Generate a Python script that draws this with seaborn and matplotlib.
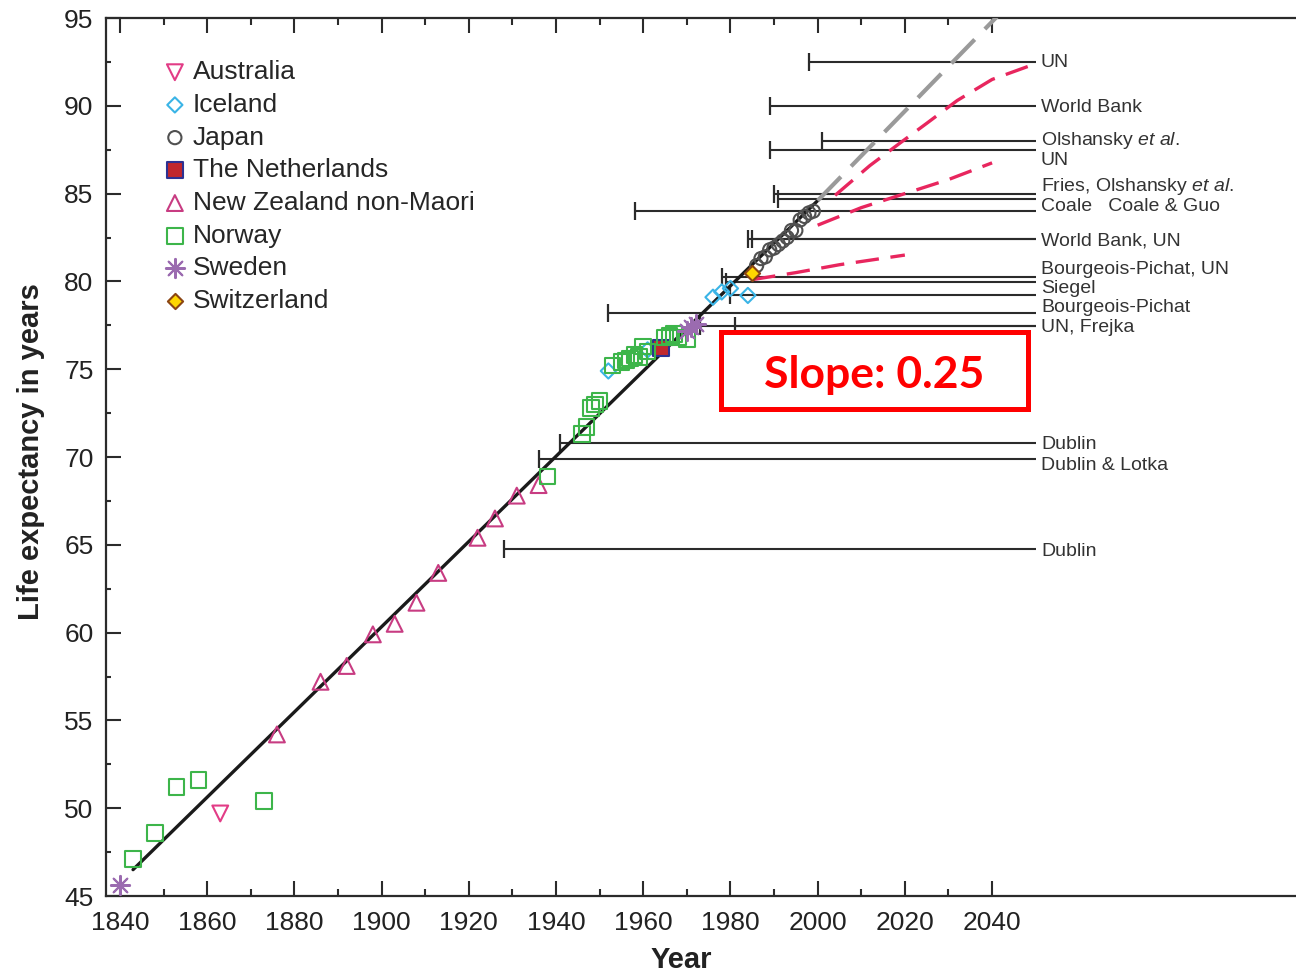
import numpy as np
import pandas as pd
import seaborn as sns
import matplotlib.pyplot as plt
from matplotlib.patches import Rectangle
from matplotlib.ticker import MultipleLocator

# record female life expectancy, by country
australia_year = [1863]
australia_e0 = [49.7]
iceland_year = [1952, 1961, 1976, 1978, 1980, 1984]
iceland_e0 = [74.9, 76.1, 79.1, 79.4, 79.6, 79.2]
japan_year = [1986, 1987, 1988, 1989, 1990, 1991, 1992, 1993, 1994, 1995, 1996, 1997, 1998, 1999]
japan_e0 = [80.9, 81.3, 81.4, 81.8, 81.9, 82.1, 82.3, 82.5, 82.9, 82.9, 83.5, 83.7, 83.9, 84.0]
netherlands_year = [1964]
netherlands_e0 = [76.2]
nz_year = [1876, 1886, 1892, 1898, 1903, 1908, 1913, 1922, 1926, 1931, 1936]
nz_e0 = [54.2, 57.2, 58.1, 59.9, 60.5, 61.7, 63.4, 65.4, 66.5, 67.8, 68.4]
norway_year = [1843, 1848, 1853, 1858, 1873, 1938, 1946, 1947, 1948, 1949, 1950,
               1953, 1955, 1956, 1957, 1958, 1959, 1960, 1961, 1965, 1966, 1967, 1968, 1970]
norway_e0 = [47.1, 48.6, 51.2, 51.6, 50.4, 68.9, 71.3, 71.7, 72.8, 73.0, 73.2,
             75.2, 75.4, 75.5, 75.6, 75.8, 75.7, 76.3, 76.0, 76.8, 76.9, 77.0, 76.8, 76.7]
sweden_year = [1840, 1970, 1971, 1972]
sweden_e0 = [45.6, 77.2, 77.4, 77.6]
switzerland_year = [1985]
switzerland_e0 = [80.5]

# linear trend and its extrapolation
trend_year = [1843, 2000]
trend_e0 = [46.5, 84.6]
extrap_year = [2000, 2042]
extrap_e0 = [84.6, 95.3]

# projections (dashed pink)
proj_a_year = [2004, 2012, 2019, 2025, 2032, 2040, 2050]
proj_a_e0 = [84.9, 86.6, 87.9, 89.0, 90.3, 91.5, 92.4]
proj_b_year = [2000, 2010, 2020, 2030, 2040]
proj_b_e0 = [83.2, 84.2, 85.0, 85.8, 86.75]
proj_c_year = [1985, 1995, 2005, 2020]
proj_c_e0 = [80.1, 80.5, 80.95, 81.5]

# asserted ceilings: year published, level
limit_start = [1998, 1989, 2001, 1989, 1990, 1991, 1958, 1984, 1985,
               1978, 1979, 1980, 1952, 1973, 1981, 1941, 1936, 1928]
limit_level = [92.5, 90.0, 88.0, 87.5, 85.0, 84.7, 84.0, 82.4, 82.4,
               80.25, 79.95, 79.25, 78.2, 77.45, 77.45, 70.8, 69.9, 64.75]
limit_end = 2050

limit_labels = ["UN", "World Bank", "Olshansky $\\mathit{et\\ al.}$", "UN",
                "Fries, Olshansky $\\mathit{et\\ al.}$", "Coale   Coale & Guo",
                "World Bank, UN", "Bourgeois-Pichat, UN", "Siegel",
                "Bourgeois-Pichat", "UN, Frejka", "Dublin", "Dublin & Lotka", "Dublin"]
limit_label_y = [92.44, 89.93, 88.0, 86.86, 85.38, 84.24, 82.3, 80.7, 79.62,
                 78.54, 77.35, 70.74, 69.49, 64.59]

countries = {
    "Australia": (australia_year, australia_e0, "v", "none", "#E23C86", 130),
    "Iceland": (iceland_year, iceland_e0, "D", "none", "#3AB4E6", 60),
    "Japan": (japan_year, japan_e0, "o", "none", "#505050", 90),
    "The Netherlands": (netherlands_year, netherlands_e0, "s", "#C1272D", "#2E3192", 120),
    "New Zealand non-Maori": (nz_year, nz_e0, "^", "none", "#C83C82", 130),
    "Norway": (norway_year, norway_e0, "s", "none", "#3DB54A", 125),
    "Sweden": (sweden_year, sweden_e0, (8, 2, 0), "#9B6BB0", "#9B6BB0", 190),
    "Switzerland": (switzerland_year, switzerland_e0, "D", "#FFD700", "#8B4513", 60),
}

sns.set_theme(style="ticks")
plt.rcParams["font.family"] = ["Liberation Sans", "DejaVu Sans"]
plt.rcParams["mathtext.fontset"] = "custom"
plt.rcParams["mathtext.rm"] = "Liberation Sans"
plt.rcParams["mathtext.it"] = "Liberation Sans:italic"

fig = plt.figure(figsize=(12.96, 9.74), dpi=100)
ax = fig.add_axes([106 / 1296, 78 / 974, 1 - 106 / 1296, 878 / 974])

ink = "#2b2b2b"

# ceilings
ax.hlines(limit_level, limit_start, limit_end, color=ink, lw=1.5, zorder=2)
ax.plot(limit_start, limit_level, ls="none", marker="|", ms=13, mew=1.6, color=ink, zorder=2)
for lab, ly in zip(limit_labels, limit_label_y):
    ax.text(2051.2, ly, lab, ha="left", va="center", fontsize=14, color="#333333")

# trend lines
sns.lineplot(x=trend_year, y=trend_e0, ax=ax, color="#1a1a1a", lw=2.4, zorder=3)
sns.lineplot(x=extrap_year, y=extrap_e0, ax=ax, color="#9a9a9a", lw=3,
             zorder=3).lines[-1].set_dashes([8, 3.5])
for py, pv in [(proj_a_year, proj_a_e0), (proj_b_year, proj_b_e0), (proj_c_year, proj_c_e0)]:
    ln = ax.plot(py, pv, color="#E8265E", lw=2.4, zorder=3)[0]
    ln.set_dashes([7, 3.5])

# country records
for name, (yr, e0, mk, fc, ec, sz) in countries.items():
    sns.scatterplot(x=yr, y=e0, ax=ax, marker=mk, s=sz, facecolor=fc,
                    edgecolor=ec, linewidth=1.5, label=name, zorder=4)

ax.set_xlim(1836.8, 2109.7)
ax.set_ylim(45, 95)
ax.set_xticks(range(1840, 2041, 20))
ax.xaxis.set_minor_locator(plt.FixedLocator(range(1850, 2031, 20)))
ax.yaxis.set_major_locator(MultipleLocator(5))
ax.yaxis.set_minor_locator(MultipleLocator(2.5))
ax.tick_params(which="both", direction="in", top=True, right=False, colors=ink,
               labelcolor="#222222", labelsize=19, width=1.5)
ax.tick_params(which="major", length=11)
ax.tick_params(which="minor", length=5)
ax.tick_params(axis="y", which="minor", length=3.5)
ax.tick_params(axis="x", pad=10.5)
ax.tick_params(axis="y", pad=9)
ax.spines["right"].set_visible(False)
for sp in ["left", "top", "bottom"]:
    ax.spines[sp].set_color(ink)
    ax.spines[sp].set_linewidth(1.6)

ax.set_xlabel("Year", fontsize=21, fontweight="bold", color="#222222")
ax.set_ylabel("Life expectancy in years", fontsize=21, fontweight="bold", color="#222222")
ax.xaxis.set_label_coords(0.483, -0.057)
ax.yaxis.set_label_coords(-0.051, 0.506)

ax.legend(loc="upper left", bbox_to_anchor=(0.049, 0.952), frameon=False,
          fontsize=19, handlelength=0.8, handletextpad=0.28, labelspacing=0.33,
          borderaxespad=0, borderpad=0)

# slope box
fig.patches.append(Rectangle((721 / 1296, 1 - 409 / 974), 307 / 1296, 77 / 974,
                             transform=fig.transFigure, facecolor="white",
                             edgecolor="#FF0000", lw=3.6, zorder=10))
fig.text(874 / 1296, 1 - 375 / 974, "Slope: 0.25", ha="center", va="center",
         fontsize=32, fontweight="bold", color="#FF0000", family=["Lato", "DejaVu Sans"],
         zorder=11)

fig.savefig("out.png", dpi=100)
